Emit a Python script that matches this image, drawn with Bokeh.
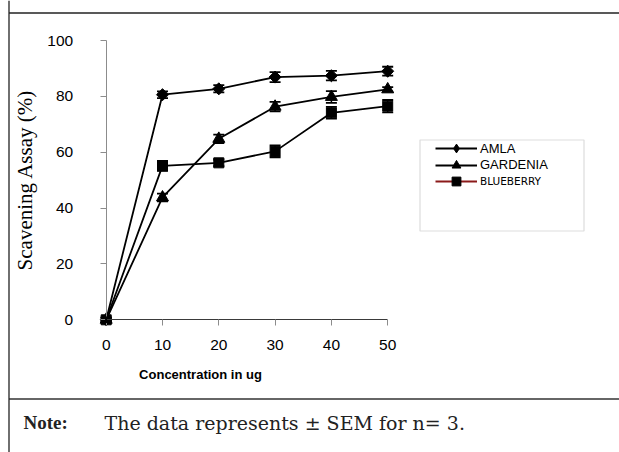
import math
from bokeh.plotting import figure
from bokeh.models import (Range1d, Whisker, ColumnDataSource, Legend, LegendItem,
                          Label, TeeHead, BoxAnnotation, Span, FixedTicker,
                          GlobalInlineStyleSheet)
from bokeh.embed import file_html
from bokeh.resources import INLINE

# ---------------- data ----------------
conc = [0, 10, 20, 30, 40, 50]
amla = [0, 80.6, 82.7, 86.9, 87.4, 89.0]
amla_err = [0.8, 1.2, 1.3, 1.8, 1.7, 1.6]
gardenia = [0, 43.8, 64.8, 76.3, 79.8, 82.5]
gardenia_err = [0.8, 1.4, 1.5, 1.7, 2.1, 0.8]
blueberry = [0, 55.1, 56.2, 60.3, 74.1, 76.5]
blueberry_err = [0.8, 1.8, 1.2, 2.1, 2.1, 2.2]
x_ticks = [0, 10, 20, 30, 40, 50]
y_ticks = [0, 20, 40, 60, 80, 100]
series_names = ["AMLA", "GARDENIA", "BLUEBERRY"]
x_title = "Concentration in ug"
y_title = "Scavening Assay (%)"
note_head = "Note:"
note_body = "The data represents \u00b1 SEM for n= 3."

# ---------------- layout (canvas pixels) ----------------
W, H = 619, 452
X0PX, XSCALE = 105.7, 5.63     # px of x=0, px per unit
Y0PX, YSCALE = 319.3, 2.793    # px of y=0, px per unit


def dx(px):
    return (px - X0PX) / XSCALE


def dy(py):
    return (Y0PX - py) / YSCALE


p = figure(width=W, height=H, output_backend="svg", toolbar_location=None,
           x_range=Range1d(dx(0), dx(W)), y_range=Range1d(dy(H), dy(0)),
           min_border=0, background_fill_color="white",
           border_fill_color="white")
p.outline_line_color = None
p.grid.visible = False
p.stylesheets = [GlobalInlineStyleSheet(css="html, body { margin: 0; overflow: hidden !important; }")]

# axes fixed at data origin
p.xaxis.fixed_location = 0
p.yaxis.fixed_location = 0
p.xaxis.bounds = (0, 50)
p.yaxis.bounds = (0, 100)
p.xaxis.ticker = FixedTicker(ticks=x_ticks)
p.yaxis.ticker = FixedTicker(ticks=y_ticks)
for ax in (p.xaxis, p.yaxis):
    ax.minor_tick_line_color = None
    ax.major_tick_in = 0
    ax.major_tick_out = 6
    ax.major_label_text_font = "Liberation Sans"
    ax.major_label_text_font_size = "15.5px"
    ax.major_label_text_color = "black"
p.xaxis.major_label_standoff = 14
p.yaxis.major_label_standoff = 27
p.yaxis.axis_line_color = "#8c8c8c"
p.yaxis.major_tick_line_color = "#8c8c8c"
p.xaxis.axis_line_color = "#3a3a3a"
p.xaxis.major_tick_line_color = "#8c8c8c"
p.yaxis.axis_label = y_title
p.yaxis.axis_label_text_font = "Liberation Serif"
p.yaxis.axis_label_text_font_style = "normal"
p.yaxis.axis_label_text_font_size = "21px"
p.yaxis.axis_label_text_color = "black"
p.yaxis.axis_label_standoff = 8

# outer frame lines and divider
p.add_layout(Span(location=dx(8.5), dimension="height", line_color="#222222", line_width=1.3))
p.segment(x0=[dx(8.5)], y0=[dy(12.5)], x1=[dx(W + 5)], y1=[dy(12.5)],
          line_color="#222222", line_width=1.5)
p.segment(x0=[dx(8.5)], y0=[dy(398.5)], x1=[dx(W + 5)], y1=[dy(398.5)],
          line_color="#333333", line_width=1.5)

# legend box
p.add_layout(BoxAnnotation(left=dx(419.5), right=dx(583.5), top=dy(139.5), bottom=dy(230.5),
                           fill_color="white", fill_alpha=1, line_color="#8a8a8a", line_width=1.2,
                           level="underlay"))

# ---------------- series ----------------
lw = 1.8
src = ColumnDataSource(dict(
    x=conc,
    amla=amla, amla_lo=[v - e for v, e in zip(amla, amla_err)], amla_hi=[v + e for v, e in zip(amla, amla_err)],
    gard=gardenia, gard_lo=[v - e for v, e in zip(gardenia, gardenia_err)], gard_hi=[v + e for v, e in zip(gardenia, gardenia_err)],
    blue=blueberry, blue_lo=[v - e for v, e in zip(blueberry, blueberry_err)], blue_hi=[v + e for v, e in zip(blueberry, blueberry_err)],
))

l_amla = p.line("x", "amla", source=src, line_color="black", line_width=lw)
l_gard = p.line("x", "gard", source=src, line_color="black", line_width=lw)
l_blue = p.line("x", "blue", source=src, line_color="black", line_width=lw)

m_amla = p.scatter("x", "amla", source=src, marker="square", size=8.5, angle=math.pi / 4,
                   fill_color="black", line_color="black")
m_gard = p.scatter("x", "gard", source=src, marker="triangle", size=12,
                   fill_color="black", line_color="black")
m_blue = p.scatter("x", "blue", source=src, marker="square", size=10,
                   fill_color="black", line_color="black")

for key in ("amla", "gard", "blue"):
    p.add_layout(Whisker(source=src, base="x", upper=key + "_hi", lower=key + "_lo",
                         line_color="black", line_width=1.5, level="overlay",
                         upper_head=TeeHead(size=11, line_color="black", line_width=1.8),
                         lower_head=TeeHead(size=11, line_color="black", line_width=1.8)))

# legend proxies: dark red line for BLUEBERRY, diamond glyph for AMLA
# (both sit on the origin point, hidden under the marker cluster there)
l_blue_leg = p.line(x=conc[:1], y=blueberry[:1], line_color="#8b1a1a", line_width=lw)
m_amla_leg = p.scatter(x=conc[:1], y=amla[:1], marker="diamond", size=10,
                       fill_color="black", line_color="black")

# ---------------- legends (one per entry for per-entry fonts) ----------------
entries = [
    (series_names[0], [l_amla, m_amla_leg], 148, "Liberation Sans", "13px"),
    (series_names[1], [l_gard, m_gard], 164.5, "Liberation Sans", "13px"),
    (series_names[2], [l_blue_leg, m_blue], 181, "DejaVu Sans", "10.5px"),
]
for name, rends, cy, font, fsize in entries:
    gh = 22
    leg = Legend(items=[LegendItem(label=name, renderers=rends)],
                 location=(435, H - (cy + gh / 2)), padding=0, margin=0,
                 glyph_width=42, glyph_height=gh, label_height=gh, label_standoff=3,
                 border_line_color=None, background_fill_alpha=0,
                 label_text_font=font, label_text_font_size=fsize,
                 label_text_color="black")
    p.add_layout(leg)

# ---------------- texts ----------------
p.add_layout(Label(x=dx(200), y=dy(374), text=x_title, text_align="center",
                   text_baseline="middle", text_font="Liberation Sans",
                   text_font_style="bold", text_font_size="13px", text_color="black"))
p.add_layout(Label(x=dx(23), y=dy(422), text=note_head, text_align="left",
                   text_baseline="middle", text_font="Liberation Serif",
                   text_font_style="bold", text_font_size="19px", text_color="#222222"))
p.add_layout(Label(x=dx(104), y=dy(422), text=note_body, text_align="left",
                   text_baseline="middle", text_font="DejaVu Serif",
                   text_font_size="19px", text_color="#222222"))

open("out.html", "w").write(file_html(p, INLINE))
